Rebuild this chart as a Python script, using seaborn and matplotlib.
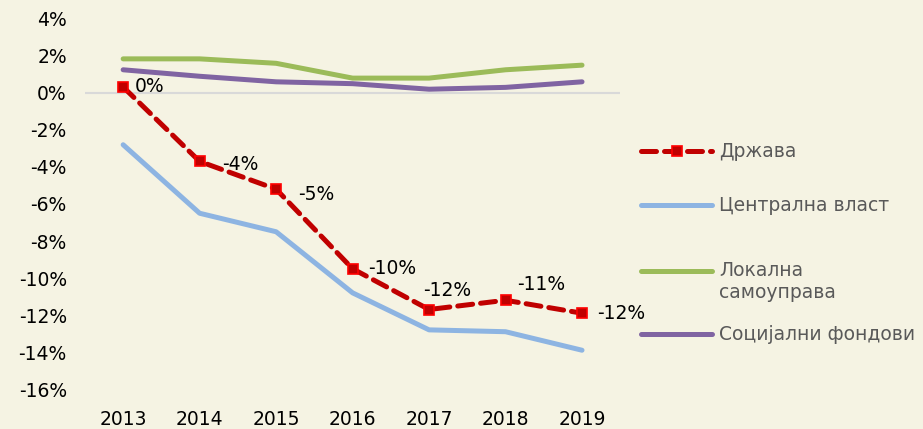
import pandas as pd
import numpy as np
import matplotlib
matplotlib.use("Agg")
import matplotlib.pyplot as plt
import seaborn as sns

# Подаци (у %)
years = ["2013", "2014", "2015", "2016", "2017", "2018", "2019"]
drzava = [0.32, -3.7, -5.2, -9.5, -11.7, -11.2, -11.9]
drzava_labels = ["0%", "-4%", "-5%", "-10%", "-12%", "-11%", "-12%"]
centralna = [-2.8, -6.5, -7.5, -10.8, -12.8, -12.9, -13.9]
lokalna = [1.84, 1.84, 1.6, 0.8, 0.8, 1.25, 1.5]
socijalni = [1.25, 0.9, 0.6, 0.5, 0.2, 0.3, 0.6]

names = ["Држава", "Централна власт", "Локална\nсамоуправа", "Социјални фондови"]
colors = ["#C00000", "#8DB4E2", "#9BBB59", "#8064A2"]
bg = "#F5F3E3"

# pomeraji natpisa (u tačkama)
label_offsets = [(8, 0), (16, -2), (16, -4), (11, 0), (-4, 14), (8, 11), (11, 0)]

sns.set_style("white")
plt.rcParams['font.family'] = ['DejaVu Sans']

fig = plt.figure(figsize=(9.23, 4.29), dpi=100, facecolor=bg)
ax = fig.add_axes([0.092, 0.093, 0.580, 0.863])
ax.set_facecolor(bg)

ax.axhline(0, color="#D9D9D9", lw=1.5, zorder=1)

for vals, i in [(centralna, 1), (lokalna, 2), (socijalni, 3)]:
    sns.lineplot(x=years, y=vals, ax=ax, color=colors[i], lw=3.6,
                 solid_capstyle="round", label=names[i], sort=False, zorder=2)

sns.lineplot(x=years, y=drzava, ax=ax, color=colors[0], lw=3.6, sort=False,
             marker="s", markersize=7.5, markerfacecolor="#C00000",
             markeredgecolor="#FF0000", markeredgewidth=1.2,
             dashes=(3.0, 1.6), dash_capstyle="round", label=names[0], zorder=3)

for i, (v, t) in enumerate(zip(drzava, drzava_labels)):
    ax.annotate(t, (i, v), xytext=label_offsets[i], textcoords="offset points",
                ha="left", va="center", fontsize=13.5, color="black")

ax.set_xlim(-0.5, 6.5)
ax.set_ylim(-16, 4)
ax.set_yticks(np.arange(-16, 5, 2))
ax.set_yticklabels([f"{t}%" for t in range(-16, 5, 2)])
ax.tick_params(axis="both", length=0, labelsize=13.5, colors="black")
ax.tick_params(axis="x", pad=15)
ax.tick_params(axis="y", pad=13)
for s in ax.spines.values():
    s.set_visible(False)
ax.set_xlabel("")
ax.set_ylabel("")

handles, labels = ax.get_legend_handles_labels()
hl = dict(zip(labels, handles))
leg = ax.legend([hl[n] for n in names], names, loc="upper left",
                bbox_to_anchor=(1.008, 0.712), frameon=False, fontsize=13.5,
                handlelength=3.75, handletextpad=0.4, labelspacing=1.85,
                labelcolor="#595959")
# prvi red dvoredne oznake u ravni sa linijom
leg.get_texts()[2].set_position((0, -11))

fig.savefig("out.png", dpi=100, facecolor=bg)
